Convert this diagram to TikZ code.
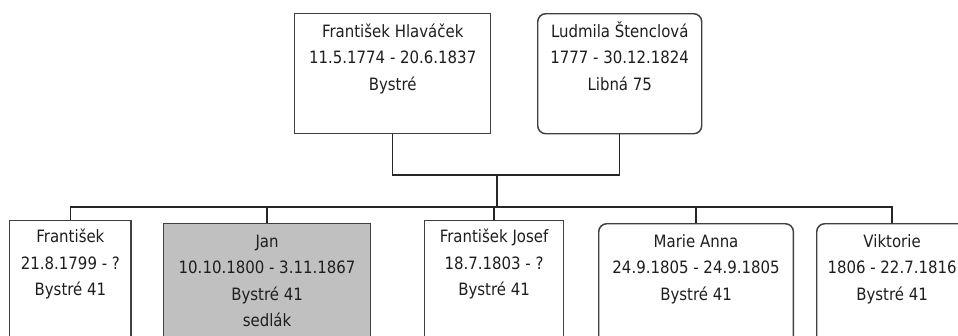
\documentclass[tikz,border=0pt]{standalone}
\usepackage{fontspec}
\setmainfont{DejaVu Sans}[FakeStretch=0.88]
\definecolor{boxline}{RGB}{64,64,64}
\definecolor{janfill}{RGB}{192,192,192}
\definecolor{txt}{RGB}{30,30,30}
\begin{document}
\begin{tikzpicture}[x=0.75pt,y=-0.75pt,
  person/.style={draw=boxline,line width=1.1pt,rectangle,anchor=north west,inner sep=0pt},
  roundperson/.style={person,rounded corners=6pt},
  persontext/.style={anchor=base,inner sep=0pt,text=txt,
    font=\fontsize{12.75pt}{19.9pt}\selectfont},
  link/.style={draw=black!85,line width=0.9pt}]
\useasboundingbox (0,0) rectangle (958,336);
\clip (0,0) rectangle (958,336);
\fill[white] (0,0) rectangle (958,336);
% parents
\node[person,minimum width=147pt,minimum height=90pt] (fh) at (294,13) {};
\node[roundperson,minimum width=123pt,minimum height=90pt] (ls) at (537,13) {};
% children
\node[person,minimum width=91pt,minimum height=120pt] (f1) at (9,220) {};
\node[person,fill=janfill,minimum width=155pt,minimum height=120pt] (jan) at (163,223) {};
\node[person,minimum width=104pt,minimum height=120pt] (fj) at (424,220) {};
\node[roundperson,minimum width=146pt,minimum height=120pt] (ma) at (598,223) {};
\node[roundperson,minimum width=113pt,minimum height=120pt] (vi) at (816,223) {};
% texts
\newcommand{\ptext}[1]{\begin{tabular}[t]{@{}c@{}}#1\end{tabular}}
\node[persontext] (fh-t) at ([yshift=-18pt]fh.north) {\ptext{František Hlaváček\\11.5.1774 - 20.6.1837\\Bystré}};
\node[persontext] (ls-t) at ([yshift=-18pt]ls.north) {\ptext{Ludmila Štenclová\\1777 - 30.12.1824\\Libná 75}};
\node[persontext] (f1-t) at ([yshift=-17pt]f1.north) {\ptext{František\\21.8.1799 - ?\\Bystré 41}};
\node[persontext] (jan-t) at ([yshift=-18pt]jan.north) {\ptext{Jan\\10.10.1800 - 3.11.1867\\Bystré 41\\sedlák}};
\node[persontext] (fj-t) at ([yshift=-17pt]fj.north) {\ptext{František Josef\\18.7.1803 - ?\\Bystré 41}};
\node[persontext] (ma-t) at ([yshift=-18pt]ma.north) {\ptext{Marie Anna\\24.9.1805 - 24.9.1805\\Bystré 41}};
\node[persontext] (vi-t) at ([yshift=-18pt]vi.north) {\ptext{Viktorie\\1806 - 22.7.1816\\Bystré 41}};
% connectors
\coordinate (cpl) at (497,175);
\coordinate (sib) at (497,207);
\draw[link] (fh.south) |- (cpl) -| (ls.south);
\draw[link] (cpl) -- (sib);
\draw[link] (sib) -| (f1.north);
\draw[link] (sib) -| (vi.north);
\draw[link] (jan.north) |- (sib);
\draw[link] (fj.north) |- (sib);
\draw[link] (ma.north) |- (sib);
\end{tikzpicture}
\end{document}
